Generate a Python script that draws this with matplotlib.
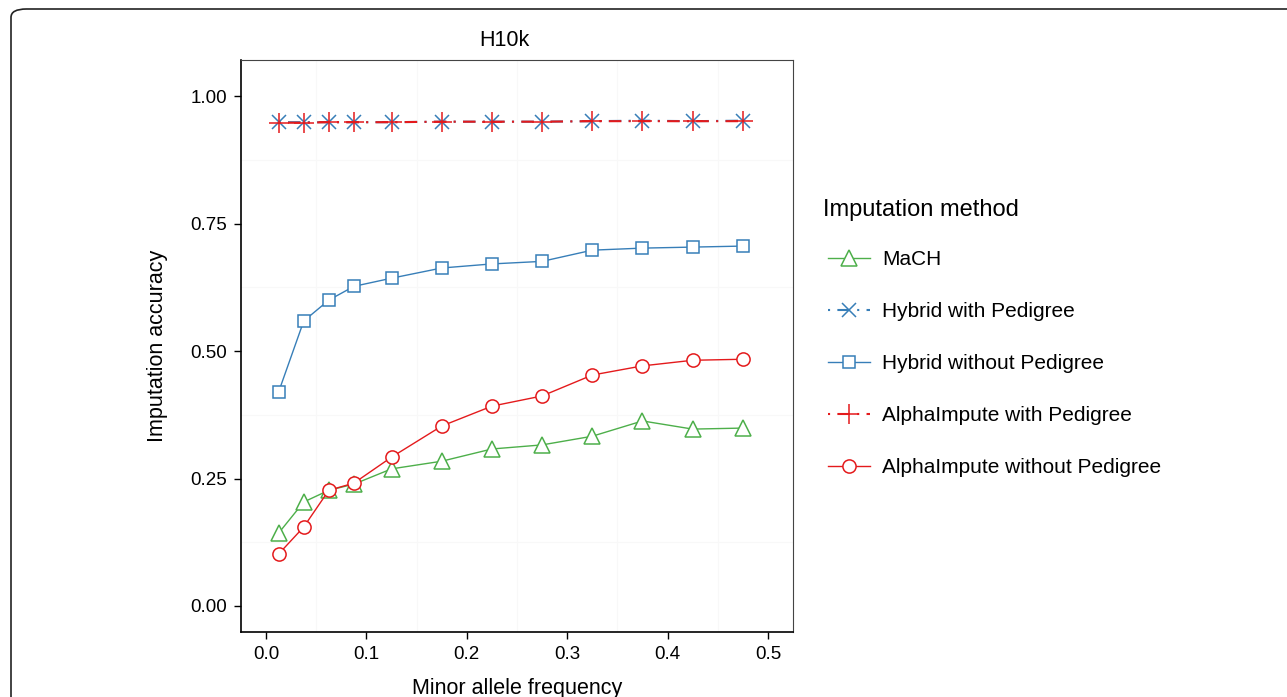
import numpy as np
import matplotlib
matplotlib.use("Agg")
import matplotlib.pyplot as plt
from matplotlib.patches import FancyBboxPatch

plt.rcParams['font.family'] = ['Liberation Sans', 'DejaVu Sans']

maf = [0.0125, 0.0375, 0.0625, 0.0875, 0.125, 0.175, 0.225, 0.275, 0.325, 0.375, 0.425, 0.475]

mach = [0.143, 0.204, 0.227, 0.239, 0.269, 0.284, 0.308, 0.316, 0.333, 0.363, 0.347, 0.349]
hybrid_ped = [0.949, 0.949, 0.949, 0.949, 0.949, 0.950, 0.950, 0.950, 0.951, 0.952, 0.951, 0.952]
hybrid_noped = [0.420, 0.559, 0.600, 0.627, 0.643, 0.663, 0.671, 0.676, 0.698, 0.702, 0.704, 0.706]
alpha_ped = [0.948, 0.948, 0.949, 0.949, 0.949, 0.950, 0.950, 0.950, 0.951, 0.951, 0.951, 0.951]
alpha_noped = [0.102, 0.155, 0.227, 0.241, 0.292, 0.353, 0.392, 0.412, 0.453, 0.471, 0.482, 0.484]

x_ticks = [0.0, 0.1, 0.2, 0.3, 0.4, 0.5]
y_ticks = [0.00, 0.25, 0.50, 0.75, 1.00]

GREEN = '#4DAF4A'
BLUE = '#377EB8'
RED = '#E41A1C'
DOTDASH = (0, (1, 3.5, 6, 3.5))

fig = plt.figure(figsize=(12.87, 6.97), dpi=100)

# rounded frame around the figure (cut at the right and bottom)
frame = FancyBboxPatch((11 / 1287, -0.05), 1.2, 1.05 - 9 / 697,
                       boxstyle="round,pad=0,rounding_size=0.012",
                       transform=fig.transFigure, fill=False,
                       edgecolor='#222222', linewidth=1.2, zorder=0)
fig.patches.append(frame)

ax = fig.add_axes([241 / 1287, 1 - 632 / 697, (793 - 241) / 1287, (632 - 60) / 697])

ax.plot(maf, mach, color=GREEN, lw=1.0, marker='^', ms=11.5, mfc='white',
        mec=GREEN, mew=1.1, label='MaCH', zorder=3)
ax.plot(maf, hybrid_ped, color=BLUE, lw=1.5, ls=DOTDASH, marker='x', ms=10,
        mec=BLUE, mew=1.1, label='Hybrid with Pedigree', zorder=3)
ax.plot(maf, hybrid_noped, color=BLUE, lw=1.0, marker='s', ms=8, mfc='white',
        mec=BLUE, mew=1.1, label='Hybrid without Pedigree', zorder=3)
ax.plot(maf, alpha_ped, color=RED, lw=1.5, ls=DOTDASH, marker='+', ms=14,
        mec=RED, mew=1.1, label='AlphaImpute with Pedigree', zorder=4)
ax.plot(maf, alpha_noped, color=RED, lw=1.0, marker='o', ms=9.5, mfc='white',
        mec=RED, mew=1.1, label='AlphaImpute without Pedigree', zorder=3)

ax.set_xlim(-0.025, 0.525)
ax.set_ylim(-0.051, 1.071)
ax.set_xticks(x_ticks)
ax.set_xticklabels([f"{v:.1f}" for v in x_ticks])
ax.set_yticks(y_ticks)
ax.set_yticklabels([f"{v:.2f}" for v in y_ticks])

# very faint grid at the minor breaks
for xv in [0.05, 0.15, 0.25, 0.35, 0.45]:
    ax.axvline(xv, color='#f8f8f8', lw=0.8, zorder=0)
for yv in [0.125, 0.375, 0.625, 0.875]:
    ax.axhline(yv, color='#f8f8f8', lw=0.8, zorder=0)

ax.tick_params(axis='both', direction='out', length=5, width=1, labelsize=13.5,
               color='black', pad=5)
for side in ['left', 'bottom']:
    ax.spines[side].set_color('black')
    ax.spines[side].set_linewidth(1.2)
for side in ['top', 'right']:
    ax.spines[side].set_color('#444444')
    ax.spines[side].set_linewidth(0.8)

# title sits slightly left of the panel centre, as in the original
fig.text(504 / 1287, 1 - 40 / 697, 'H10k', fontsize=15.5, ha='center', va='center')
ax.set_xlabel('Minor allele frequency', fontsize=15.5, labelpad=11)
ax.set_ylabel('Imputation accuracy', fontsize=15.5, labelpad=16)

fig.text(823 / 1287, 1 - 210 / 697, 'Imputation method', fontsize=17,
         ha='left', va='center')
leg = fig.legend(loc='upper left', bbox_to_anchor=(820 / 1287, 1 - 242 / 697),
                 frameon=False, fontsize=15, handlelength=2.0, handletextpad=0.6,
                 labelspacing=1.585, borderaxespad=0)

fig.savefig('out.png', dpi=100)
